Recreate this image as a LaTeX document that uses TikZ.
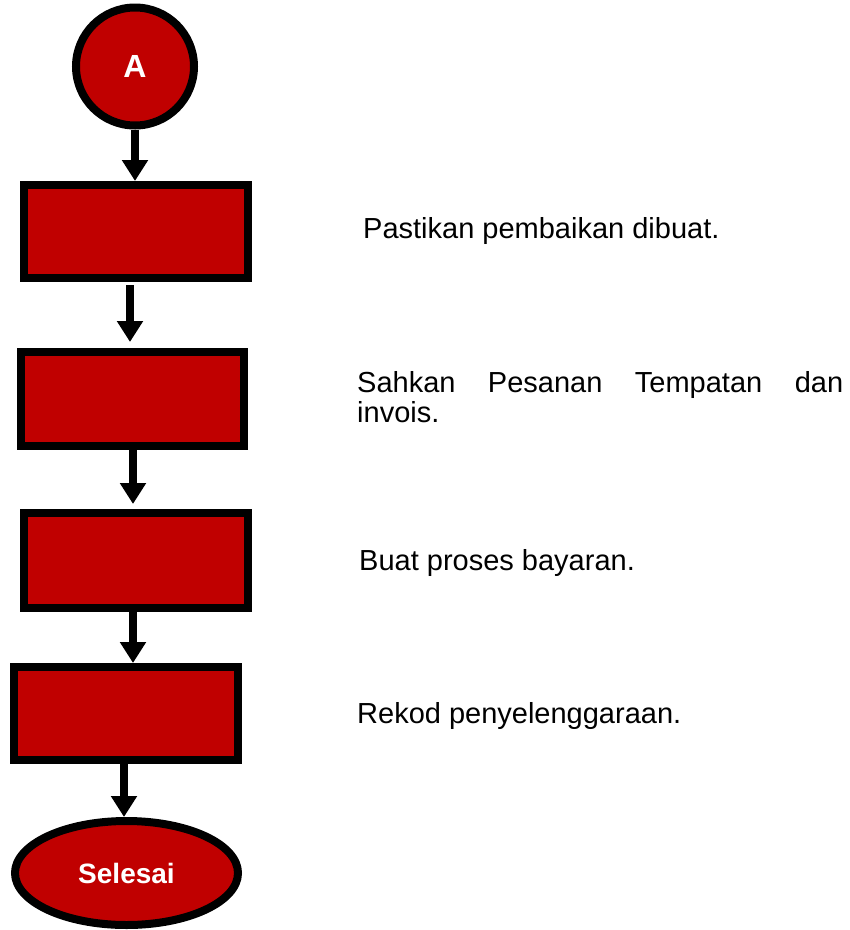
\documentclass[tikz,border=0pt]{standalone}
\usepackage{fontspec}
\setmainfont{Liberation Sans}
\usetikzlibrary{arrows.meta,shapes.geometric}
\definecolor{boxred}{HTML}{C00000}
\begin{document}
\begin{tikzpicture}[x=1pt,y=-1pt,
  stepbox/.style={draw=black,line width=8pt,fill=boxred,rectangle,inner sep=0pt,minimum width=224pt,minimum height=93pt},
  termcircle/.style={draw=black,line width=8pt,fill=boxred,circle,inner sep=0pt,minimum size=118pt,text=white,font=\fontsize{32}{34}\selectfont\bfseries},
  termellipse/.style={draw=black,line width=8pt,fill=boxred,ellipse,inner sep=0pt,minimum width=223pt,minimum height=104pt,text=white,font=\fontsize{28}{30}\selectfont\bfseries},
  flow/.style={line width=8pt,-{Triangle[width=25pt,length=21pt]}},
  note/.style={anchor=base west,inner sep=0pt,font=\fontsize{29}{30}\selectfont}]
\useasboundingbox (0,0) rectangle (850,930);
% shapes
\node[termcircle] (a) at (135,66.5) {A};
\node[stepbox] (r1) at (136,231.5) {};
\node[stepbox,minimum width=223pt,minimum height=94pt] (r2) at (132.5,399) {};
\node[stepbox,minimum height=95pt] (r3) at (136,560.5) {};
\node[stepbox] (r4) at (126,713.5) {};
\node[termellipse] (e) at (126.5,873) {Selesai};
% connectors
\draw[flow] (a.south) -- (a.south |- r1.north);
\draw[flow,shorten >=6pt,shorten <=3pt] ([xshift=-6pt]r1.south) -- ([xshift=-6pt]r1.south |- r2.north);
\draw[flow,shorten >=5pt] ([xshift=0.5pt]r2.south) -- ([xshift=0.5pt]r2.south |- r3.north);
\draw[flow] ([xshift=-3pt]r3.south) -- ([xshift=-3pt]r3.south |- r4.north);
\draw[flow] ([xshift=-2pt]r4.south) -- ([xshift=-2pt]r4.south |- e.north);
% notes
\node[note] (t1) at (363,238) {Pastikan pembaikan dibuat.};
\node[note] (t2) at (357,392) {\makebox[486pt][l]{Sahkan\hfill Pesanan\hfill Tempatan\hfill dan}};
\node[note] (t2b) at (357,422) {invois.};
\node[note] (t3) at (359,570) {Buat proses bayaran.};
\node[note] (t4) at (357,723) {Rekod penyelenggaraan.};
\end{tikzpicture}
\end{document}
